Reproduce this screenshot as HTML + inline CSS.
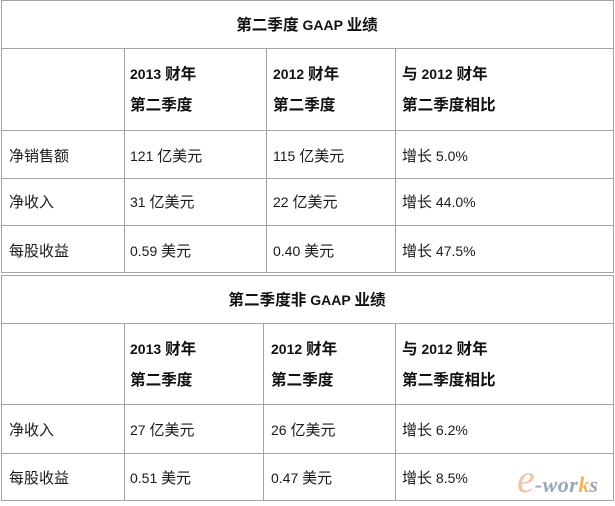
<!DOCTYPE html>
<html><head><meta charset="utf-8">
<style>
html,body{margin:0;padding:0;background:#fff;}
body{width:615px;height:504px;position:relative;overflow:hidden;font-family:"Liberation Sans","Noto Sans CJK SC",sans-serif;font-size:14px;color:#1a1a1a;}
.h{position:absolute;height:1px;background:#a4a4a4;}
.v{position:absolute;width:1px;background:#a4a4a4;}
.t{position:absolute;line-height:20px;white-space:nowrap;}
.b{font-weight:bold;color:#111;}
.b .k{font-size:15.6px;}
.k{font-size:15px;}
.c{left:1px;width:612px;text-align:center;}
</style></head><body>
<!-- Table 1 lines -->
<div class="h" style="left:1px;width:613px;top:0px"></div>
<div class="h" style="left:1px;width:613px;top:48px"></div>
<div class="h" style="left:1px;width:613px;top:130px"></div>
<div class="h" style="left:1px;width:613px;top:178px"></div>
<div class="h" style="left:1px;width:613px;top:225px"></div>
<div class="h" style="left:1px;width:613px;top:272px"></div>
<div class="v" style="left:1px;top:0;height:273px"></div>
<div class="v" style="left:613px;top:0;height:273px"></div>
<div class="v" style="left:124px;top:48px;height:225px"></div>
<div class="v" style="left:266px;top:48px;height:225px"></div>
<div class="v" style="left:395px;top:48px;height:225px"></div>
<!-- Table 2 lines -->
<div class="h" style="left:1px;width:613px;top:275px"></div>
<div class="h" style="left:1px;width:613px;top:323px"></div>
<div class="h" style="left:1px;width:613px;top:404px"></div>
<div class="h" style="left:1px;width:613px;top:453px"></div>
<div class="h" style="left:1px;width:613px;top:500px"></div>
<div class="v" style="left:1px;top:275px;height:226px"></div>
<div class="v" style="left:613px;top:275px;height:226px"></div>
<div class="v" style="left:124px;top:323px;height:178px"></div>
<div class="v" style="left:263px;top:323px;height:178px"></div>
<div class="v" style="left:395px;top:323px;height:178px"></div>

<!-- Table 1 text -->
<div class="t b c" style="top:15px"><span class="k">第二季度</span> GAAP <span class="k">业绩</span></div>
<div class="t b" style="left:130px;top:64px">2013 <span class="k">财年</span></div>
<div class="t b" style="left:130px;top:95px"><span class="k">第二季度</span></div>
<div class="t b" style="left:273px;top:64px">2012 <span class="k">财年</span></div>
<div class="t b" style="left:273px;top:95px"><span class="k">第二季度</span></div>
<div class="t b" style="left:402px;top:64px"><span class="k">与</span> 2012 <span class="k">财年</span></div>
<div class="t b" style="left:402px;top:95px"><span class="k">第二季度相比</span></div>

<div class="t" style="left:9px;top:146px"><span class="k">净销售额</span></div>
<div class="t" style="left:130px;top:146px">121 <span class="k">亿美元</span></div>
<div class="t" style="left:273px;top:146px">115 <span class="k">亿美元</span></div>
<div class="t" style="left:402px;top:146px"><span class="k">增长</span> 5.0%</div>

<div class="t" style="left:9px;top:192px"><span class="k">净收入</span></div>
<div class="t" style="left:130px;top:192px">31 <span class="k">亿美元</span></div>
<div class="t" style="left:273px;top:192px">22 <span class="k">亿美元</span></div>
<div class="t" style="left:402px;top:192px"><span class="k">增长</span> 44.0%</div>

<div class="t" style="left:9px;top:241px"><span class="k">每股收益</span></div>
<div class="t" style="left:130px;top:241px">0.59 <span class="k">美元</span></div>
<div class="t" style="left:273px;top:241px">0.40 <span class="k">美元</span></div>
<div class="t" style="left:402px;top:241px"><span class="k">增长</span> 47.5%</div>

<!-- Table 2 text -->
<div class="t b c" style="top:290px"><span class="k">第二季度非</span> GAAP <span class="k">业绩</span></div>
<div class="t b" style="left:130px;top:339px">2013 <span class="k">财年</span></div>
<div class="t b" style="left:130px;top:370px"><span class="k">第二季度</span></div>
<div class="t b" style="left:271px;top:339px">2012 <span class="k">财年</span></div>
<div class="t b" style="left:271px;top:370px"><span class="k">第二季度</span></div>
<div class="t b" style="left:402px;top:339px"><span class="k">与</span> 2012 <span class="k">财年</span></div>
<div class="t b" style="left:402px;top:370px"><span class="k">第二季度相比</span></div>

<div class="t" style="left:9px;top:420px"><span class="k">净收入</span></div>
<div class="t" style="left:130px;top:420px">27 <span class="k">亿美元</span></div>
<div class="t" style="left:271px;top:420px">26 <span class="k">亿美元</span></div>
<div class="t" style="left:402px;top:420px"><span class="k">增长</span> 6.2%</div>

<div class="t" style="left:9px;top:468px"><span class="k">每股收益</span></div>
<div class="t" style="left:130px;top:468px">0.51 <span class="k">美元</span></div>
<div class="t" style="left:271px;top:468px">0.47 <span class="k">美元</span></div>
<div class="t" style="left:402px;top:468px"><span class="k">增长</span> 8.5%</div>

<!-- watermark -->
<div style="position:absolute;left:517px;top:462px;line-height:34px;white-space:nowrap;font-family:'Liberation Serif',serif;font-style:italic;font-weight:bold;opacity:0.85;">
<span style="font-size:40px;color:#f2b890;font-weight:normal;">e</span><span style="font-size:22px;color:#8c95aa;letter-spacing:0.5px;">-wor</span><span style="font-size:22px;color:#f0a840;">k</span><span style="font-size:22px;color:#8c95aa;">s</span>
</div>
</body></html>
